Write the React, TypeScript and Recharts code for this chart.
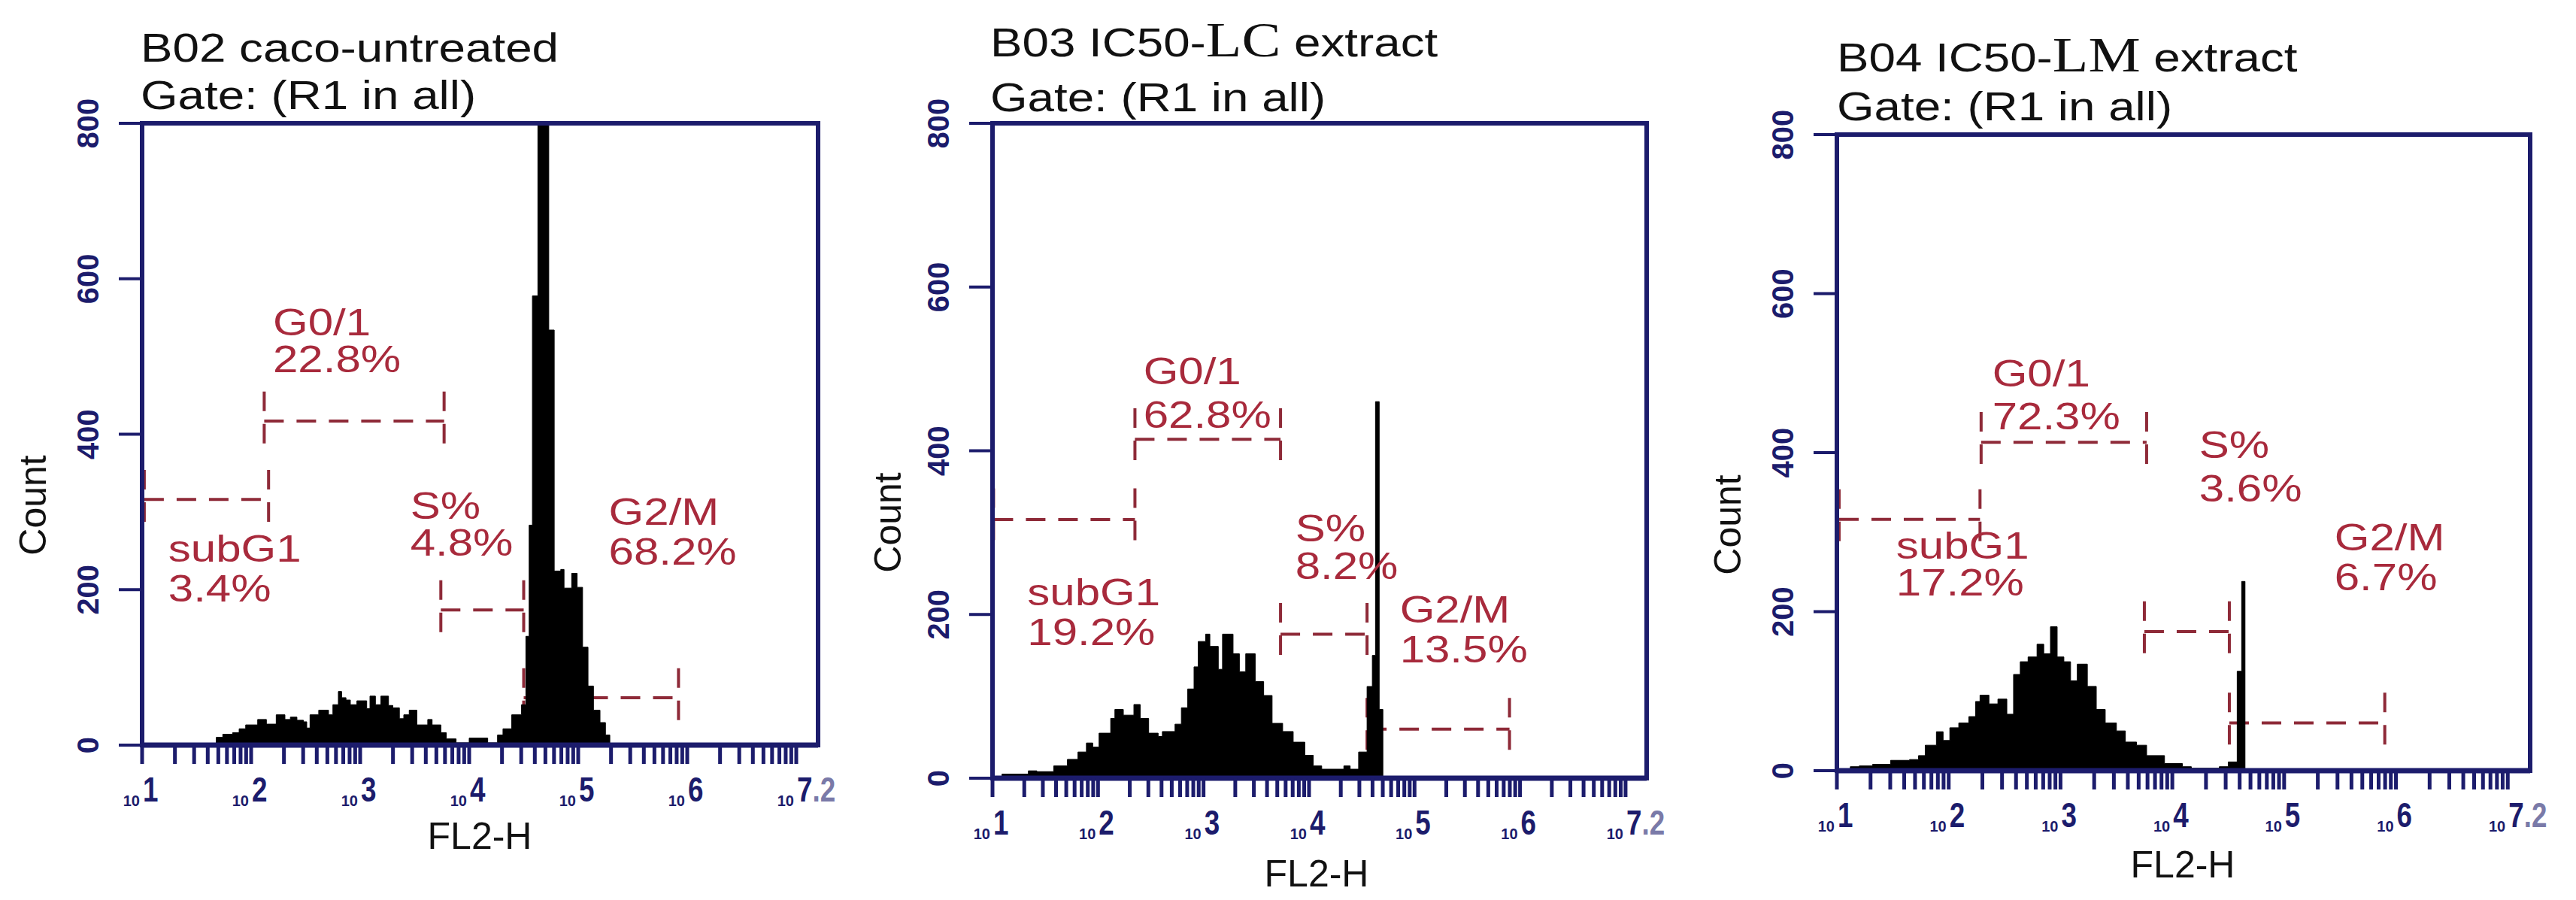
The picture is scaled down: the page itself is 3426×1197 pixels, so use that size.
import React from "react";
import {
  Area,
  ComposedChart,
  ReferenceArea,
  ReferenceDot,
  ReferenceLine,
  XAxis,
  YAxis,
} from "recharts";

// FL2-H channel (log10) and event count
const b02Histogram = [
  [1.0, 0], [1.68, 10], [1.74, 14], [1.83, 16], [1.89, 21], [1.95, 26], [2.06, 33], [2.14, 27],
  [2.23, 39], [2.31, 33], [2.36, 36], [2.42, 32], [2.48, 30], [2.51, 22], [2.54, 39], [2.62, 45],
  [2.71, 39], [2.75, 52], [2.8, 69], [2.83, 61], [2.87, 58], [2.91, 52], [2.97, 57], [3.06, 47],
  [3.09, 63], [3.14, 52], [3.19, 63], [3.26, 51], [3.3, 48], [3.36, 34], [3.4, 39], [3.45, 45],
  [3.52, 26], [3.62, 33], [3.66, 26], [3.74, 16], [3.79, 8], [3.88, 3], [4.0, 9], [4.17, 3],
  [4.26, 13], [4.31, 21], [4.39, 39], [4.48, 52], [4.52, 140], [4.55, 283], [4.58, 578], [4.63, 800],
  [4.7, 800], [4.73, 534], [4.78, 224], [4.84, 226], [4.87, 202], [4.94, 221], [4.99, 203], [5.04, 126],
  [5.09, 76], [5.14, 45], [5.2, 29], [5.25, 13], [5.29, 0], [7.2, 0],
];
const b03Histogram = [
  [1.0, 0], [1.09, 5], [1.34, 9], [1.42, 8], [1.58, 15], [1.71, 23], [1.81, 32], [1.89, 43],
  [1.95, 38], [2.01, 55], [2.12, 73], [2.16, 84], [2.24, 77], [2.34, 90], [2.4, 73], [2.48, 55],
  [2.57, 51], [2.61, 57], [2.73, 66], [2.79, 86], [2.85, 109], [2.91, 136], [2.95, 167], [3.02, 176],
  [3.06, 161], [3.14, 133], [3.18, 176], [3.28, 152], [3.34, 130], [3.4, 152], [3.49, 118], [3.57, 101],
  [3.65, 67], [3.75, 57], [3.85, 44], [3.96, 28], [4.04, 15], [4.12, 11], [4.33, 15], [4.39, 11],
  [4.47, 32], [4.55, 112], [4.6, 150], [4.63, 460], [4.665, 84], [4.7, 0], [7.2, 0],
];
const b04Histogram = [
  [1.0, 0], [1.12, 5], [1.2, 6], [1.32, 8], [1.48, 13], [1.65, 14], [1.73, 19], [1.79, 32],
  [1.89, 49], [1.95, 38], [2.01, 54], [2.09, 60], [2.18, 68], [2.24, 87], [2.28, 95], [2.36, 84],
  [2.44, 90], [2.52, 71], [2.58, 121], [2.64, 137], [2.71, 143], [2.79, 159], [2.85, 147], [2.91, 181],
  [2.97, 143], [3.03, 137], [3.09, 113], [3.15, 134], [3.24, 106], [3.32, 77], [3.4, 60], [3.5, 50],
  [3.58, 36], [3.68, 32], [3.77, 19], [3.93, 9], [4.09, 5], [4.17, 3], [4.42, 5], [4.5, 11],
  [4.58, 125], [4.62, 238], [4.65, 0], [7.2, 0],
];

// cell-cycle gates: [from channel, to channel, marker height]
const phases = ["subG1", "G0/1", "S%", "G2/M"];
const b02Gates = [[1.02, 2.16, 316], [2.12, 3.77, 417], [3.74, 4.5, 174], [4.5, 5.92, 61]];
const b03Gates = [[1.01, 2.35, 316], [2.35, 3.73, 414], [3.73, 4.55, 176], [4.55, 5.9, 60]];
const b04Gates = [[1.02, 2.28, 316], [2.29, 3.77, 413], [3.75, 4.51, 175], [4.51, 5.9, 60]];
const b02Percent = ["3.4%", "22.8%", "4.8%", "68.2%"];
const b03Percent = ["19.2%", "62.8%", "8.2%", "13.5%"];
const b04Percent = ["17.2%", "72.3%", "3.6%", "6.7%"];

const countTicks = [0, 200, 400, 600, 800];
const decades = [1, 2, 3, 4, 5, 6, 7];

const NAVY = "#1c1c6c";
const GATE = "#8e2a38";
const LABEL = "#a82a3c";
const FONT = "'Liberation Sans', Arial, sans-serif";
const SERIF = "'Liberation Serif', 'Times New Roman', serif";
const H = 1197;

const xTicks: number[] = [];
decades.forEach((d) => {
  xTicks.push(d);
  for (let k = 2; k <= 9; k++) {
    const v = d + Math.log10(k);
    if (v < 7.2) xTicks.push(v);
  }
});

const panels = [
  {
    title: [{ t: "B02 caco-untreated" }],
    hist: b02Histogram, gates: b02Gates, percents: b02Percent,
    labelAt: [[1.24, 253, 202], [2.2, 545, 497], [3.46, 309, 261], [5.28, 301, 250]],
    left: 0, width: 1140, box: { l: 189, r: 1088, t: 164, b: 991 },
    titleX: 187, titleY: [82, 145], countAt: [44, 672], flAt: [638, 1111],
  },
  {
    title: [{ t: "B03 IC50-" }, { t: "LC", serif: true }, { t: " extract" }],
    hist: b03Histogram, gates: b03Gates, percents: b03Percent,
    labelAt: [[1.33, 228, 179], [2.43, 498, 445], [3.87, 306, 260], [4.86, 207, 158]],
    left: 1145, width: 1130, box: { l: 1320, r: 2190, t: 164, b: 1035 },
    titleX: 1317, titleY: [75, 148], countAt: [1181, 695], flAt: [1751, 1161],
  },
  {
    title: [{ t: "B04 IC50-" }, { t: "LM", serif: true }, { t: " extract" }],
    hist: b04Histogram, gates: b04Gates, percents: b04Percent,
    labelAt: [[1.53, 284, 237], [2.39, 500, 446], [4.24, 410, 356], [5.45, 294, 244]],
    left: 2280, width: 1146, box: { l: 2443, r: 3365, t: 179, b: 1025 },
    titleX: 2443, titleY: [95, 160], countAt: [2298, 698], flAt: [2903, 1149],
  },
];

type PanelCfg = (typeof panels)[number];

const XTick = ({ x, y, payload }: any) => {
  const v = payload.value;
  const major = Math.abs(v - Math.round(v)) < 1e-6;
  return (
    <g>
      <line x1={x} x2={x} y1={y} y2={y + 25} stroke={NAVY} strokeWidth={5} />
      {major && (
        <>
          <text x={x - 3} y={y + 81} textAnchor="end" fontSize={20} fontWeight="bold" fill={NAVY} fontFamily={FONT}>
            10
          </text>
          <text
            transform={`translate(${x + 1},${y + 75}) scale(0.8,1)`}
            fontSize={46}
            fontWeight="bold"
            fill={NAVY}
            fontFamily={FONT}
          >
            {Math.round(v)}
            {Math.round(v) === 7 && <tspan fill="#7a7aa8">.2</tspan>}
          </text>
        </>
      )}
    </g>
  );
};

const YTick = ({ x, y, payload }: any) => (
  <g>
    <line x1={x - 31} x2={x} y1={y} y2={y} stroke={NAVY} strokeWidth={4} />
    <text
      transform={`translate(${x - 72},${y}) rotate(-90)`}
      textAnchor="middle"
      dominantBaseline="central"
      fontSize={40}
      fontWeight="bold"
      fill={NAVY}
      fontFamily={FONT}
    >
      {payload.value}
    </text>
  </g>
);

const GateLabel = (text: string) => (p: any) => (
  <text transform={`translate(${p.cx},${p.cy + 18}) scale(1.2,1)`} fontSize={50} fill={LABEL} fontFamily={FONT}>
    {text}
  </text>
);

const chartMargin = (p: PanelCfg) => ({
  top: p.box.t,
  right: p.left + p.width - p.box.r,
  bottom: H - p.box.b - 60,
  left: p.box.l - p.left - 80,
});

// gate markers sit in a layer behind the histogram
const GateLayer = ({ p, data }: { p: PanelCfg; data: any[] }) => (
  <ComposedChart width={p.width} height={H} data={data} margin={chartMargin(p)}>
    <XAxis type="number" dataKey="x" domain={[1, 7.2]} allowDataOverflow tick={false} axisLine={false} tickLine={false} height={60} />
    <YAxis type="number" domain={[0, 800]} allowDataOverflow tick={false} axisLine={false} tickLine={false} width={80} />
    {p.gates.map(([a, b, h], i) => (
      <React.Fragment key={`g${i}`}>
        <ReferenceLine segment={[{ x: a, y: h }, { x: b, y: h }]} stroke={GATE} strokeWidth={4} strokeDasharray="26 17" />
        <ReferenceLine segment={[{ x: a, y: h + 38 }, { x: a, y: h - 38 }]} stroke={GATE} strokeWidth={4} strokeDasharray="26 17" />
        <ReferenceLine segment={[{ x: b, y: h + 38 }, { x: b, y: h - 38 }]} stroke={GATE} strokeWidth={4} strokeDasharray="26 17" />
      </React.Fragment>
    ))}
  </ComposedChart>
);

const Panel = ({ p }: { p: PanelCfg }) => {
  const data = p.hist.map(([x, count]) => ({ x, count }));
  return (
    <>
      <div style={{ position: "absolute", left: p.left, top: 0 }}>
        <GateLayer p={p} data={data} />
      </div>
      <div style={{ position: "absolute", left: p.left, top: 0 }}>
        <ComposedChart width={p.width} height={H} data={data} style={{ fontFamily: FONT }} margin={chartMargin(p)}>
          <XAxis
            type="number"
            dataKey="x"
            domain={[1, 7.2]}
            allowDataOverflow
            ticks={xTicks}
            interval={0}
            tickSize={0}
            tickMargin={0}
            tickLine={false}
            axisLine={{ stroke: NAVY, strokeWidth: 7 }}
            tick={(props: any) => <XTick {...props} />}
            height={60}
          />
          <YAxis
            type="number"
            domain={[0, 800]}
            allowDataOverflow
            ticks={countTicks}
            interval={0}
            tickSize={0}
            tickMargin={0}
            tickLine={false}
            axisLine={{ stroke: NAVY, strokeWidth: 6 }}
            tick={(props: any) => <YTick {...props} />}
            width={80}
          />
          <Area
            type="stepAfter"
            dataKey="count"
            stroke="#000"
            strokeWidth={1}
            fill="#000"
            fillOpacity={1}
            dot={false}
            activeDot={false}
            isAnimationActive={false}
          />
          <ReferenceArea x1={1} x2={7.2} y1={0} y2={800} fill="none" stroke={NAVY} strokeWidth={6} ifOverflow="visible" />
          {p.labelAt.map(([lx, y1, y2], i) => (
            <React.Fragment key={`l${i}`}>
              <ReferenceDot x={lx} y={y1} r={1} shape={GateLabel(phases[i])} />
              <ReferenceDot x={lx} y={y2} r={1} shape={GateLabel(p.percents[i])} />
            </React.Fragment>
          ))}
        </ComposedChart>
      </div>
    </>
  );
};

export default function App() {
  return (
    <div style={{ position: "absolute", left: 0, top: 0, width: 3426, height: H, background: "#fff" }}>
      {panels.map((p, i) => (
        <Panel key={i} p={p} />
      ))}
      <svg width={3426} height={H} style={{ position: "absolute", left: 0, top: 0, pointerEvents: "none" }}>
        {panels.map((p, i) => (
          <g key={i} fontFamily={FONT} fill="#111">
            <text transform={`translate(${p.titleX},${p.titleY[0]}) scale(1.18,1)`} fontSize={54}>
              {p.title.map((s: any, j) => (
                <tspan key={j} fontFamily={s.serif ? SERIF : FONT} fontSize={s.serif ? 66 : 54}>
                  {s.t}
                </tspan>
              ))}
            </text>
            <text transform={`translate(${p.titleX},${p.titleY[1]}) scale(1.18,1)`} fontSize={54}>
              Gate: (R1 in all)
            </text>
            <text
              transform={`translate(${p.countAt[0]},${p.countAt[1]}) rotate(-90)`}
              textAnchor="middle"
              dominantBaseline="central"
              fontSize={50}
            >
              Count
            </text>
            <text x={p.flAt[0]} y={p.flAt[1] + 18} textAnchor="middle" fontSize={50}>
              FL2-H
            </text>
          </g>
        ))}
      </svg>
    </div>
  );
}
